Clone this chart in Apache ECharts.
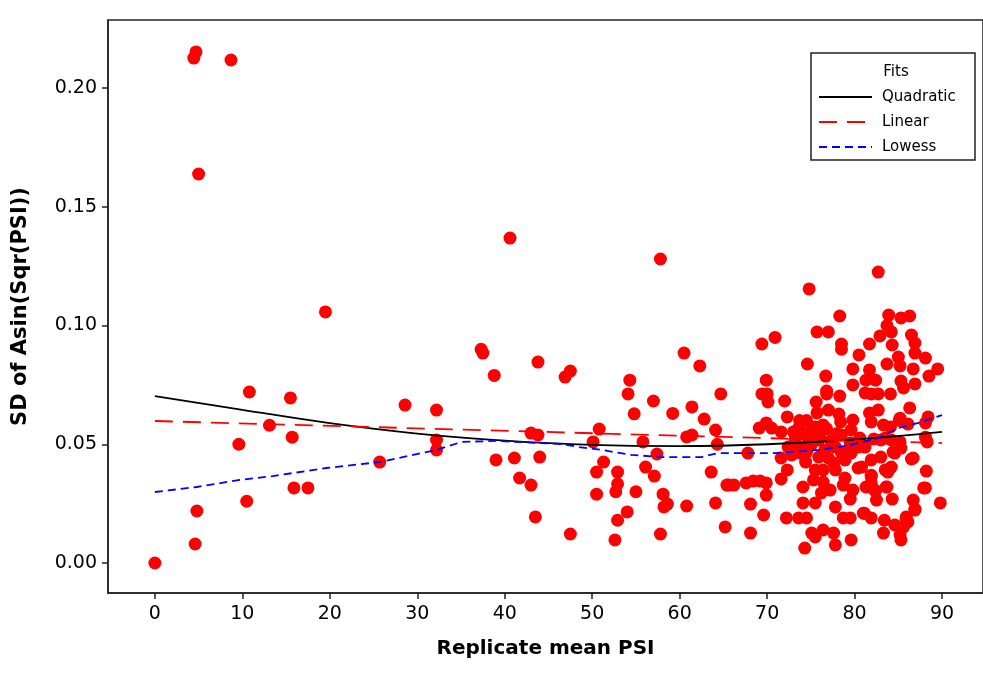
<!DOCTYPE html>
<html>
<head>
<meta charset="utf-8">
<script src="https://cdn.jsdelivr.net/npm/echarts@6/dist/echarts.min.js"></script>
<style>html,body{margin:0;padding:0;background:#fff;}#c{width:983px;height:677px;}</style>
</head>
<body>
<div id="c"></div>
<script>
// Scatter: replicate mean PSI (x) and SD of Asin(Sqr(PSI)) (y)
const psiMean = [0,4.45,4.7,8.7,5.0,4.8,4.6,10.8,9.6,10.5,13.1,15.5,15.7,15.9,17.5,19.5,25.7,28.6,32.2,32.2,32.2,
40.6,57.8,37.3,37.5,38.8,43.8,46.9,47.5,60.5,62.3,54.3,54.1,57.0,54.8,59.2,61.4,62.8,64.7,64.1,43.0,43.8,50.8,50.1,55.8,60.8,61.4,64.3,57.4,
39.0,41.1,44.0,41.7,43.0,51.3,50.5,52.9,52.9,52.7,50.5,56.1,57.1,55.0,58.1,63.6,65.4,58.6,58.2,60.8,64.1,54.0,52.9,43.5,47.5,52.6,57.8,65.2,
82.7,74.8,78.3,83.9,85.3,86.3,75.7,77.0,83.7,84.2,82.9,78.5,78.5,69.4,70.9,81.7,84.3,86.5,86.9,86.9,80.5,85.0,85.2,83.7,88.1,89.5,74.6,79.8,86.7,
81.7,81.3,82.4,88.5,76.7,69.9,85.3,85.6,86.9,79.8,69.4,70.0,70.1,72.0,76.8,76.8,78.3,81.2,81.9,82.7,84.1,75.6,86.3,81.7,82.7,72.3,73.7,74.5,75.7,
77.0,78.2,78.4,88.4,88.1,69.9,69.1,70.5,71.6,85.1,86.1,73.6,75.5,79.6,81.9,83.3,84.1,88.1,88.3,67.8,72.4,73.2,73.8,74.7,75.9,76.6,77.8,78.9,80.1,
81.2,83.0,84.2,85.2,71.6,74.4,75.9,77.6,78.9,80.8,81.9,83.0,84.6,86.7,88.2,72.3,71.6,75.5,76.4,77.8,78.9,80.4,81.9,83.5,84.2,74.1,75.3,76.4,76.2,
77.2,78.7,79.8,81.6,82.3,83.6,88.1,82.5,79.5,74.1,75.5,77.8,84.3,86.7,86.9,89.8,65.6,66.2,67.6,68.4,69.2,69.9,69.9,68.1,69.6,72.2,73.6,74.5,78.7,
79.5,81.1,81.9,83.4,84.6,85.6,86.1,85.9,85.2,85.3,83.3,68.1,75.1,76.4,77.6,75.5,77.8,79.6,74.3,
82.2,79.5,80.4,83.5,84.4,85.3,86.5,83.8,81.9,81.9,81.3,82.4,83.7,87.9,86.9,81.0,85.9,85.2,78.5,79.6,
74.9,73.0,76.4,74.5,77.0,79.8,78.5,80.6,
74.0,75.0,76.0,77.3,73.5,76.8,78.0,72.8];
const sdAsin = [0,0.2126,0.2152,0.2118,0.1638,0.0219,0.008,0.072,0.050,0.026,0.058,0.0695,0.053,0.0316,0.0316,0.1057,0.0425,0.0665,0.0644,0.0518,0.0476,
0.1368,0.128,0.090,0.0884,0.079,0.0846,0.0783,0.0808,0.0884,0.083,0.077,0.0712,0.0682,0.0628,0.063,0.0657,0.0606,0.0712,0.056,0.0547,0.0539,0.0564,0.051,0.051,0.0531,0.0539,0.050,0.0459,
0.0434,0.0442,0.0446,0.0358,0.0328,0.0425,0.0383,0.0383,0.0333,0.030,0.029,0.0404,0.0366,0.030,0.029,0.0383,0.0328,0.0248,0.0236,0.024,0.0253,0.0215,0.018,0.0194,0.0122,0.0097,0.0122,0.0152,
0.1225,0.1154,0.104,0.1044,0.1032,0.104,0.0973,0.0973,0.100,0.0973,0.0956,0.0922,0.090,0.0922,0.095,0.0922,0.0918,0.096,0.0926,0.0884,0.0876,0.0867,0.083,0.0838,0.0863,0.0817,0.0838,0.0817,0.0817,
0.0813,0.077,0.077,0.0787,0.0787,0.077,0.0766,0.0737,0.0754,0.075,0.0712,0.0712,0.0678,0.0682,0.0724,0.0712,0.0703,0.0716,0.0712,0.0712,0.0712,0.0678,0.0653,0.0632,0.0644,0.0615,0.060,0.060,0.0632,
0.0644,0.0627,0.0594,0.0615,0.059,0.059,0.0568,0.0568,0.0552,0.060,0.0585,0.0568,0.0573,0.056,0.0594,0.0581,0.0573,0.053,0.051,0.0463,0.0488,0.0518,0.0463,0.0505,0.0518,0.0476,0.0488,0.0463,0.0505,
0.0488,0.0518,0.0518,0.051,0.0442,0.0425,0.0446,0.0421,0.0434,0.0404,0.0434,0.0446,0.0463,0.0442,0.0387,0.0392,0.0354,0.0392,0.0392,0.0392,0.0358,0.040,0.0362,0.0392,0.0404,0.032,0.035,0.0341,0.0295,
0.0307,0.0328,0.0307,0.032,0.0307,0.032,0.0316,0.0265,0.0269,0.0253,0.0253,0.0236,0.0269,0.0265,0.0227,0.0253,0.0328,0.0328,0.0337,0.0345,0.0345,0.0337,0.0286,0.0248,0.0202,0.019,0.019,0.019,0.019,
0.019,0.021,0.019,0.018,0.016,0.0152,0.0173,0.0194,0.0118,0.0097,0.0126,0.0126,0.0126,0.0139,0.0126,0.011,0.0076,0.0097,0.0063,
0.0522,0.0505,0.0488,0.0526,0.0467,0.0484,0.0438,0.0383,0.037,0.0337,0.032,0.0303,0.032,0.0316,0.0223,0.021,0.0185,0.061,0.0463,0.0463,
0.0552,0.0552,0.0581,0.0467,0.0442,0.0602,0.0539,0.0526,
0.0545,0.0495,0.053,0.0515,0.0485,0.0565,0.0545,0.0455];

// Fitted lines
const quadX = [0,10,20,30,40,50,60,70,80,90];
const quadY = [0.0703,0.0645,0.0589,0.0545,0.0515,0.0497,0.0492,0.0500,0.0520,0.0552];
const linX = [0,90];
const linY = [0.0598,0.0505];
const lowX = [0,4.8,9.7,13.5,19.6,25.7,32.2,35.1,39.0,46.5,48.5,51.1,54.5,58.0,62.5,64.4,70.9,75.9,79.6,82.7,85.0,87.3,90];
const lowY = [0.0299,0.032,0.035,0.0366,0.040,0.0425,0.0476,0.051,0.0514,0.0501,0.0488,0.0476,0.0455,0.0446,0.0446,0.0463,0.0463,0.0476,0.0497,0.0526,0.0568,0.059,0.0623];

const xTicks = [0,10,20,30,40,50,60,70,80,90];
const yTicks = [0,0.05,0.10,0.15,0.20];
const legendTitle = 'Fits';
const legendNames = ['Quadratic','Linear','Lowess'];

const zip = (a,b) => a.map((v,i)=>[v,b[i]]);
const FONT = 'DejaVu Sans';
const LW = 1.8;
const legendStyles = [
  {stroke:'#000', lineDash:null},
  {stroke:'#ff0000', lineDash:[18,10]},
  {stroke:'#0000ff', lineDash:[8,5]}
];

const graphics = [
  {type:'rect', shape:{x:811, y:53, width:164, height:107}, style:{fill:'#fff', stroke:'#222', lineWidth:1.5}, z:10},
  {type:'text', x:896, y:72, style:{text:legendTitle, fontFamily:FONT, fontSize:15, fill:'#000', align:'center', verticalAlign:'middle'}, z:11}
];
legendNames.forEach((n,i)=>{
  const y = 97 + i*25;
  graphics.push({type:'line', shape:{x1:819, y1:y, x2:872, y2:y},
    style:{stroke:legendStyles[i].stroke, lineWidth:LW, lineDash:legendStyles[i].lineDash}, z:11});
  graphics.push({type:'text', x:882, y:y, style:{text:n, fontFamily:FONT, fontSize:15, fill:'#000', align:'left', verticalAlign:'middle'}, z:11});
});

const chart = echarts.init(document.getElementById('c'), null, {renderer:'canvas'});
chart.setOption({
  animation: false,
  backgroundColor: '#fff',
  grid: {left:108, top:20, right:-2, bottom:84, show:true, borderColor:'#222', borderWidth:1.5, backgroundColor:'transparent'},
  xAxis: {
    type:'value', min:-5.361, max:94.68,
    name:'Replicate mean PSI', nameLocation:'middle', nameGap:46,
    nameTextStyle:{fontFamily:FONT, fontWeight:'bold', fontSize:20, color:'#000'},
    axisLine:{show:true, onZero:false, lineStyle:{color:'#222', width:1.5}},
    axisTick:{show:true, customValues:xTicks, length:6, lineStyle:{color:'#222', width:1.5}},
    axisLabel:{customValues:xTicks, margin:12, fontFamily:FONT, fontSize:19, color:'#000'},
    splitLine:{show:false}
  },
  yAxis: {
    type:'value', min:-0.01263, max:0.22863,
    name:'SD of Asin(Sqr(PSI))', nameLocation:'middle', nameGap:77, nameRotate:90,
    nameTextStyle:{fontFamily:FONT, fontWeight:'bold', fontSize:21, color:'#000'},
    axisLine:{show:true, onZero:false, lineStyle:{color:'#222', width:1.5}},
    axisTick:{show:true, customValues:yTicks, length:6, lineStyle:{color:'#222', width:1.5}},
    axisLabel:{customValues:yTicks, margin:11, fontFamily:FONT, fontSize:19, color:'#000',
      formatter:(v)=>v.toFixed(2)},
    splitLine:{show:false}
  },
  graphic: graphics,
  series: [
    {type:'scatter', name:'data', data:zip(psiMean, sdAsin), symbol:'circle', symbolSize:13,
      itemStyle:{color:'#ff0000', opacity:1}, z:2},
    {type:'line', name:legendNames[0], data:zip(quadX, quadY), smooth:0.4, symbol:'none',
      lineStyle:{color:'#000', width:LW, type:'solid'}, z:5},
    {type:'line', name:legendNames[1], data:zip(linX, linY), symbol:'none',
      lineStyle:{color:'#ff0000', width:LW, type:[18,10]}, z:5},
    {type:'line', name:legendNames[2], data:zip(lowX, lowY), symbol:'none',
      lineStyle:{color:'#0000ff', width:LW, type:[8,5]}, z:5}
  ]
});
</script>
</body>
</html>
